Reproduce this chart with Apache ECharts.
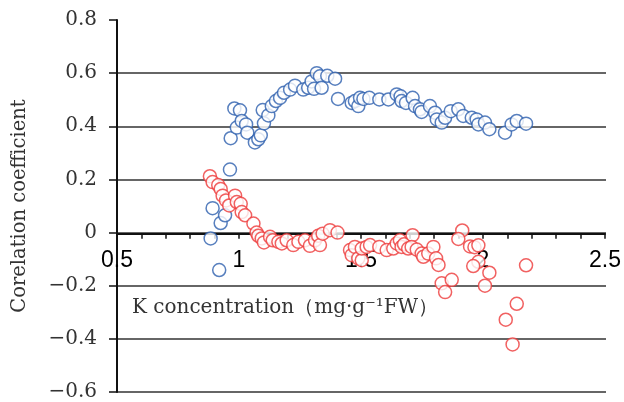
<!DOCTYPE html>
<html>
<head>
<meta charset="utf-8">
<script src="https://cdn.jsdelivr.net/npm/echarts@6/dist/echarts.min.js"></script>
<style>
  html, body { margin: 0; padding: 0; background: #ffffff; }
  #chart { width: 624px; height: 402px; }
</style>
</head>
<body>
<div id="chart"></div>
<script>
// X axis tick labels and ranges
const xTicks = [0.5, 1, 1.5, 2, 2.5];
const yTicks = [-0.6, -0.4, -0.2, 0, 0.2, 0.4, 0.6, 0.8];

// Blue series: [K concentration, correlation coefficient]
const bluePoints = [
  [0.883,-0.022],[0.891,0.092],[0.918,-0.141],[0.924,0.036],[0.942,0.065],[0.962,0.237],
  [0.965,0.355],[0.98,0.467],[0.99,0.395],[1.003,0.46],[1.01,0.42],[1.028,0.407],
  [1.033,0.376],[1.064,0.339],[1.078,0.351],[1.088,0.366],[1.096,0.461],[1.101,0.411],
  [1.119,0.441],[1.133,0.476],[1.15,0.495],[1.167,0.507],[1.183,0.526],[1.208,0.538],
  [1.228,0.553],[1.262,0.538],[1.282,0.545],[1.296,0.569],[1.306,0.541],[1.317,0.6],
  [1.33,0.588],[1.337,0.545],[1.36,0.59],[1.392,0.579],[1.404,0.503],[1.46,0.488],
  [1.473,0.495],[1.487,0.476],[1.494,0.507],[1.508,0.503],[1.532,0.507],[1.573,0.501],
  [1.61,0.501],[1.644,0.52],[1.66,0.513],[1.664,0.495],[1.682,0.488],[1.709,0.507],
  [1.719,0.476],[1.739,0.464],[1.746,0.454],[1.78,0.476],[1.801,0.451],[1.808,0.426],
  [1.828,0.414],[1.842,0.432],[1.865,0.457],[1.896,0.464],[1.916,0.439],[1.951,0.432],
  [1.971,0.426],[1.978,0.407],[2.005,0.414],[2.023,0.389],[2.087,0.376],[2.114,0.407],
  [2.135,0.42],[2.173,0.41]
];

// Red series: [K concentration, correlation coefficient]
const redPoints = [
  [0.88,0.212],[0.891,0.19],[0.914,0.179],[0.924,0.164],[0.932,0.139],[0.946,0.121],
  [0.959,0.102],[0.983,0.139],[0.99,0.115],[1.006,0.108],[1.01,0.077],[1.024,0.065],
  [1.058,0.034],[1.071,0.0],[1.078,-0.012],[1.092,-0.022],[1.101,-0.037],[1.126,-0.016],
  [1.137,-0.029],[1.16,-0.035],[1.174,-0.041],[1.194,-0.029],[1.221,-0.047],[1.242,-0.035],
  [1.269,-0.029],[1.289,-0.05],[1.31,-0.029],[1.323,-0.012],[1.33,-0.047],[1.341,-0.004],
  [1.371,0.009],[1.402,0.0],[1.453,-0.066],[1.46,-0.085],[1.473,-0.054],[1.487,-0.097],
  [1.501,-0.104],[1.501,-0.06],[1.521,-0.054],[1.535,-0.047],[1.573,-0.054],[1.603,-0.066],
  [1.63,-0.06],[1.644,-0.041],[1.657,-0.029],[1.664,-0.054],[1.674,-0.044],[1.691,-0.06],
  [1.709,-0.01],[1.705,-0.054],[1.726,-0.064],[1.746,-0.079],[1.753,-0.091],[1.773,-0.079],
  [1.794,-0.054],[1.805,-0.097],[1.815,-0.122],[1.828,-0.191],[1.869,-0.178],[1.842,-0.224],
  [1.912,0.008],[1.896,-0.024],[1.944,-0.052],[1.962,-0.055],[1.978,-0.048],[1.978,-0.11],
  [1.957,-0.126],[2.023,-0.151],[2.005,-0.2],[2.173,-0.123],[2.135,-0.268],[2.09,-0.328],
  [2.118,-0.421]
];

const xName = 'K concentration\uFF08mg\u00B7g\u207B\u00B9FW\uFF09';
const yName = 'Corelation coefficient';

const chart = echarts.init(document.getElementById('chart'), null, { renderer: 'canvas' });
const serif = '"DejaVu Serif", "Liberation Serif", serif';
const plotLeft = 117, plotRight = 18, plotTop = 20, plotBottom = 8;
// Zero line (x axis) sits at value 0 of the y axis: compute its distance from the bottom through the y range
const yMin = yTicks[0], yMax = yTicks[yTicks.length - 1];
const plotH = 402 - plotTop - plotBottom;
const zeroFromBottom = plotBottom + plotH * (0 - yMin) / (yMax - yMin);

chart.setOption({
  animation: false,
  backgroundColor: '#ffffff',
  grid: [
    { left: plotLeft, right: plotRight, top: plotTop, bottom: plotBottom, containLabel: false },
    { left: plotLeft, right: plotRight, top: plotTop, bottom: zeroFromBottom, containLabel: false }
  ],
  xAxis: [
    {
      gridIndex: 0,
      type: 'value',
      min: xTicks[0],
      max: xTicks[xTicks.length - 1],
      interval: 0.5,
      show: false
    },
    {
      gridIndex: 1,
      type: 'value',
      min: xTicks[0],
      max: xTicks[xTicks.length - 1],
      interval: 0.5,
      position: 'bottom',
      name: xName,
      nameLocation: 'start',
      nameGap: -15,
      nameTextStyle: {
        fontFamily: serif, fontSize: 20, color: '#333',
        align: 'left', verticalAlign: 'top', padding: [64, 0, 0, 0]
      },
      axisLine: { show: true, onZero: false, lineStyle: { color: '#111', width: 2 } },
      axisTick: { show: true, inside: false, length: 5, lineStyle: { color: '#111', width: 1.5 } },
      minorTick: { show: true, splitNumber: 5, length: 5, lineStyle: { color: '#111', width: 1.5 } },
      axisLabel: {
        fontFamily: '"Liberation Sans", Arial, sans-serif', fontSize: 23, color: '#000',
        margin: 15,
        formatter: v => String(v)
      },
      splitLine: { show: false }
    }
  ],
  yAxis: [
    {
      gridIndex: 0,
      type: 'value',
      min: yMin,
      max: yMax,
      interval: 0.2,
      name: yName,
      nameLocation: 'middle',
      nameGap: 87,
      nameTextStyle: { fontFamily: serif, fontSize: 19.5, color: '#333' },
      axisLine: { show: true, onZero: false, lineStyle: { color: '#111', width: 2 } },
      axisTick: { show: true, inside: false, length: 8, lineStyle: { color: '#111', width: 1.5 } },
      axisLabel: {
        fontFamily: serif, fontSize: 20, color: '#333', margin: 20,
        formatter: v => {
          const r = Math.round(v * 10) / 10;
          if (r === 0) return '0';
          const s = Math.abs(r).toFixed(1);
          return r < 0 ? '\u2212' + s : s;
        }
      },
      splitLine: { show: true, showMaxLine: false, showMinLine: true, lineStyle: { color: '#333', width: 1.5 } }
    },
    {
      gridIndex: 1,
      type: 'value',
      min: 0,
      max: yMax,
      show: false
    }
  ],
  series: [
    {
      type: 'scatter',
      xAxisIndex: 0,
      yAxisIndex: 0,
      data: bluePoints,
      symbol: 'circle',
      symbolSize: 13,
      itemStyle: { color: '#ffffff', borderColor: '#2d5fae', borderWidth: 1.5 },
      z: 2
    },
    {
      type: 'scatter',
      xAxisIndex: 0,
      yAxisIndex: 0,
      data: redPoints,
      symbol: 'circle',
      symbolSize: 13,
      itemStyle: { color: '#ffffff', borderColor: '#ee3a3a', borderWidth: 1.5 },
      z: 3
    }
  ]
});
</script>
</body>
</html>
